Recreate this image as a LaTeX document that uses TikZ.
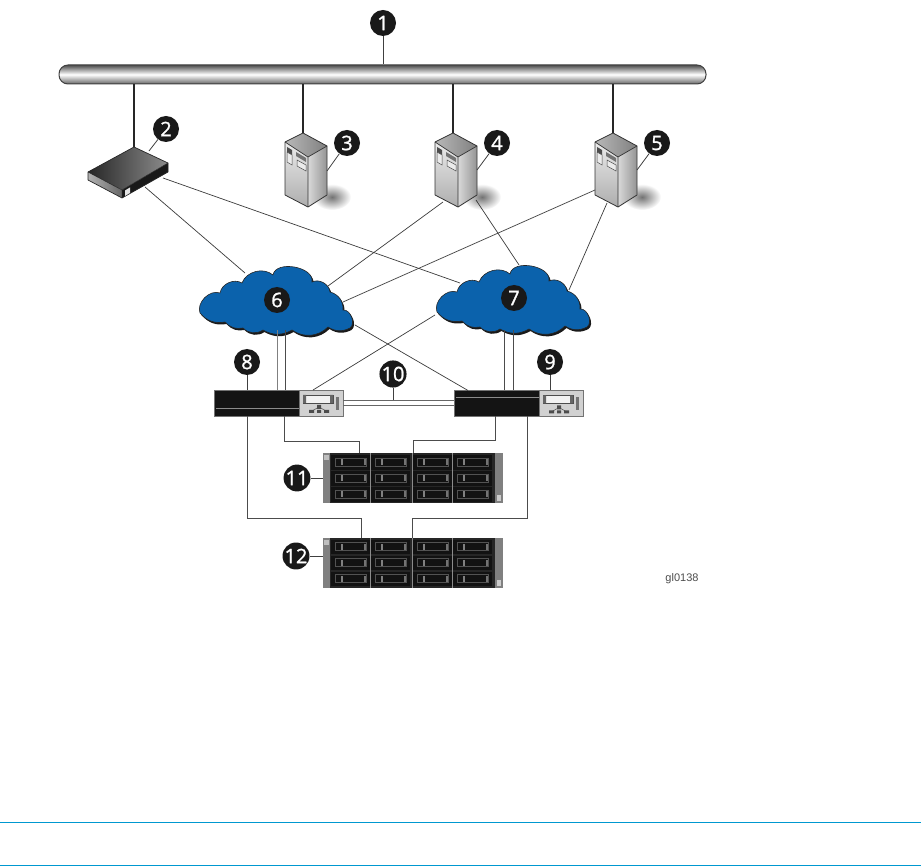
\documentclass[tikz,border=0pt]{standalone}
\usepackage{fontspec}
\setmainfont{Open Sans}
\newfontfamily\badgefont[FakeBold=1.2]{Open Sans}
\newfontfamily\captfont{Liberation Sans}
\usetikzlibrary{
  positioning,
  calc
}
\definecolor{cloudblue}{HTML}{0B62AC}
\definecolor{rulecyan}{HTML}{0098D0}
\definecolor{wire}{HTML}{3A3A3A}

\begin{document}
\begin{tikzpicture}[
  x=1pt, y=-1pt,
  badge/.style={circle, fill=black!90, text=white, inner sep=0pt, minimum size=26pt,
                font=\badgefont\fontsize{20}{20}\selectfont},
  busbar/.style={draw=black!75, line width=1pt, rounded corners=9pt, minimum width=647pt,
                 minimum height=19pt, inner sep=0pt, top color=black!70,
                 bottom color=black!60, middle color=white},
  drop/.style={draw=black!85, line width=1.2pt},
  tagline/.style={draw=black!75, line width=0.8pt},
  link/.style={draw=wire, line width=0.7pt},
  stem/.style={draw=black!70, line width=1pt},
  swbody/.style={draw=black!55, line width=0.8pt, fill=black!92, minimum width=129pt,
                 minimum height=26pt, inner sep=0pt, outer sep=0pt},
  swpanel/.style={draw=black!55, line width=0.8pt, fill=black!18, minimum width=44pt,
                  minimum height=26pt, inner sep=0pt, outer sep=0pt},
  arraybody/.style={fill=black!50, minimum width=180pt, minimum height=50pt,
                    inner sep=0pt, outer sep=0pt},
  pics/cabinet/.style={code={
    \shade[top color=black!8, bottom color=black!32] (-18,9) -- (5,24) -- (5,74) -- (-18,62) -- cycle;
    \shade[left color=black!15, right color=black!42] (5,24) -- (24,13) -- (24,62) -- (5,74) -- cycle;
    \shade[left color=black!28, right color=black!50] (0,0) -- (24,13) -- (5,24) -- (-18,9) -- cycle;
    \draw[black!80, line width=0.8pt, line join=round] (0,0) -- (24,13) -- (24,62) -- (5,74) -- (-18,62) -- (-18,9) -- cycle;
    \draw[black!80, line width=0.7pt] (-18,9) -- (5,24) -- (24,13) (5,24) -- (5,74);
    \fill[black!70] (-16,14) -- (-11,17) -- (-11,22) -- (-16,19) -- cycle;
    \draw[black!70, fill=black!8, line width=0.5pt] (-16,19) -- (-11,22) -- (-11,32) -- (-16,29) -- cycle;
    \fill[black!55] (-7,19) -- (3,25) -- (3,29) -- (-7,23) -- cycle;
    \draw[black!70, fill=black!8, line width=0.5pt] (-6,27) -- (3,32) -- (3,38) -- (-6,33) -- cycle;
  }},
  pics/routerbox/.style={code={
    \shade[left color=black!30, right color=black!60] (-46,25) -- (-12,43) -- (-12,51) -- (-46,33) -- cycle;
    \fill[black!90] (-12,43) -- (34,16) -- (34,25) -- (-12,51) -- cycle;
    \shade[left color=black!85, right color=black!45] (0,0) -- (34,16) -- (-12,43) -- (-46,25) -- cycle;
    \draw[black!85, line width=0.7pt, line join=round] (0,0) -- (34,16) -- (34,25) -- (-12,51) -- (-46,33) -- (-46,25) -- cycle;
    \draw[black!85, line width=0.5pt] (-46,25) -- (-12,43) -- (34,16) (-12,43) -- (-12,51);
    \fill[black!10] (-9,43.5) -- (-4,40.5) -- (-4,46) -- (-9,49) -- cycle;
  }},
  pics/cumulus/.style={code={
    \def\cloudpath{(-77,13) to[bend left=65] (-57,-7) to[bend left=55] (-35,-17)
      to[bend left=55] (-4,-25) to[bend left=90] (35,-18) to[bend left=55] (53,-8)
      to[bend left=40] (66,10) to[bend left=75] (73,28) to[bend left=30] (51,27)
      to[bend left=40] (15,30) to[bend left=30] (-14,30) to[bend left=40] (-34,28)
      to[bend left=30] (-52,22) to[bend left=30] cycle}
    \fill[black!90, shift={(1.5,2)}] \cloudpath;
    \draw[black!85, line width=0.6pt, fill=cloudblue] \cloudpath;
  }},
  pics/swface/.style={code={
    \draw[black!70, fill=black!5, line width=0.6pt] (-18,-8) rectangle (12,0);
    \fill[black!60] (-18,-8) rectangle (-15,0) (9,-8) rectangle (12,0);
    \draw[black!70, line width=0.5pt] (-2,4) -- (-9,8) (-2,4) -- (5,8);
    \fill[black!70] (-4,2) rectangle (0,6) (-12,7) rectangle (-7,10) (-4,7) rectangle (0,10) (3,7) rectangle (8,10);
    \fill[black!55] (15,-6) rectangle (18,7);
  }},
  pics/bays/.style={code={
    \fill[black!85] (7,0) rectangle (172,50);
    \foreach \col/\xa in {0/8,1/48,2/90,3/130} {
      \foreach \row/\ya in {0/2,1/18,2/34} {
        \fill[black!93] (\xa,\ya) rectangle ++(39,14.5);
        \draw[black!68, line width=0.5pt] (\xa+4,\ya+3) rectangle ++(31,8);
        \fill[black!50] (\xa+10,\ya+4) rectangle ++(2,6);
        \fill[black!55] (\xa+33,\ya+4) rectangle ++(2,6);
      }
    }
    \draw[black!45, line width=0.7pt] (47.5,0) -- (47.5,50) (89,0) -- (89,50) (129,0) -- (129,50);
    \fill[black!25] (1,2) rectangle (6,7);
    \fill[black!20] (174,42) rectangle (178,48);
  }}
]
  \useasboundingbox (0,0) rectangle (921,866);

  % backbone
  \node[busbar] (bus) at (382.5,74.5) {};

  % hosts
  \shade[inner color=black!55, outer color=white] (332,197) ellipse (19 and 13);
  \shade[inner color=black!55, outer color=white] (482,197) ellipse (19 and 13);
  \shade[inner color=black!55, outer color=white] (642,197) ellipse (19 and 13);
  \pic at (134,147) {routerbox};
  \pic at (303,133) {cabinet};
  \pic at (453,133) {cabinet};
  \pic at (613,133) {cabinet};
  \coordinate (hostb) at (134,147);
  \coordinate (hostc) at (303,133);
  \coordinate (hostd) at (453,133);
  \coordinate (hoste) at (613,133);
  \coordinate (hostbtag) at (149,151);
  \coordinate (hostctag) at (327,171);
  \coordinate (hostdtag) at (477,170);
  \coordinate (hostetag) at (637,170);

  % clouds
  \pic at (277,300) {cumulus};
  \pic at (514,299) {cumulus};

  % switches
  \node[swbody] (swh) at (278.5,403) {};
  \node[swbody] (swi) at (518.5,403.5) {};
  \node[swpanel] (swhp) at (321,403) {};
  \node[swpanel] (swip) at (561,403.5) {};
  \pic at (swhp) {swface};
  \pic at (swip) {swface};
  \fill[black!45] (216,408) rectangle (299,409.5);
  \fill[black!45] (456,397) rectangle (539,398.5);

  % storage
  \node[arraybody] (arrk) at (413,478) {};
  \node[arraybody] (arrl) at (413,562.5) {};
  \pic at (arrk.north west) {bays};
  \pic at (arrl.north west) {bays};

  % host to cloud, cloud to switch ends
  \coordinate (hbs) at (145,187);
  \coordinate (hbe) at (163,178);
  \coordinate (hds) at (443,202);
  \coordinate (hde) at (476,200);
  \coordinate (hes) at (595,190);
  \coordinate (hee) at (607,203);
  \coordinate (cfb) at (245,273);
  \coordinate (cfd) at (328,286);
  \coordinate (cfe) at (343,302);
  \coordinate (cfi) at (355,325);
  \coordinate (cgb) at (460,283);
  \coordinate (cgd) at (519,265);
  \coordinate (cge) at (569,290);
  \coordinate (cgh) at (435,315);

  \draw[link] (hbs) -- (cfb);
  \draw[link] (hbe) -- (cgb);
  \draw[link] (hds) -- (cfd);
  \draw[link] (hde) -- (cgd);
  \draw[link] (hes) -- (cfe);
  \draw[link] (hee) -- (cge);
  \draw[link] (cfi) -- ([xshift=14pt]swi.north west);
  \draw[link] (cgh) -- ([xshift=99pt]swh.north west);

  % bus drops
  \draw[drop] (hostb) -- (bus.south -| hostb);
  \draw[drop] (hostc) -- (bus.south -| hostc);
  \draw[drop] (hostd) -- (bus.south -| hostd);
  \draw[drop] (hoste) -- (bus.south -| hoste);

  % cloud to switch
  \draw[stem, black!50] ([xshift=63pt]swh.north west) -- ++(0,-60);
  \draw[stem] ([xshift=71pt]swh.north west) -- ++(0,-60);
  \draw[stem] ([xshift=50pt]swi.north west) -- ++(0,-60);
  \draw[stem] ([xshift=59pt]swi.north west) -- ++(0,-60);

  % interconnect
  \draw[stem, black!60, line width=0.8pt] (swhp.east |- 0,400) -- (swi.west |- 0,400);
  \draw[stem, black!60, line width=0.8pt] (swhp.east |- 0,405) -- (swi.west |- 0,405);

  % switch to storage
  \draw[stem] ([xshift=70pt]swh.south west) -- ++(0,25) -| ([xshift=36pt]arrk.north west);
  \draw[stem] ([xshift=41pt]swi.south west) -- ++(0,24) -| ([xshift=90pt]arrk.north west);
  \draw[stem] ([xshift=33pt]swh.south west) -- ++(0,102) -| ([xshift=38pt]arrl.north west);
  \draw[stem] ([xshift=73pt]swi.south west) -- ++(0,101.5) -| ([xshift=89pt]arrl.north west);

  % numbers
  \node[badge] (nb) at (383,23) {1};
  \node[badge] (nc) at (166,129) {2};
  \node[badge] (nd) at (347,143) {3};
  \node[badge] (ne) at (497,143) {4};
  \node[badge] (nf) at (657,143) {5};
  \node[badge] (ng) at (277,300) {6};
  \node[badge] (nh) at (514,298) {7};
  \node[badge] (ni) at (247,362) {8};
  \node[badge] (nj) at (550,362) {9};
  \node[badge] (nk) at (393,374) {10};
  \node[badge] (nl) at (297,478) {11};
  \node[badge] (nm) at (296,556) {12};

  \draw[tagline] (nb) -- (bus.north -| nb);
  \draw[tagline] (nc) -- (hostbtag);
  \draw[tagline] (nd) -- (hostctag);
  \draw[tagline] (ne) -- (hostdtag);
  \draw[tagline] (nf) -- (hostetag);
  \draw[tagline] (ni) -- (swh.north -| ni);
  \draw[tagline] (nj) -- (swi.north -| nj);
  \draw[tagline] (nk) -- (nk |- 0,400);
  \draw[tagline] (nl) -- (arrk.west |- nl);
  \draw[tagline] (nm) -- (arrl.west |- nm);

  \node[font=\captfont\fontsize{11}{11}\selectfont, text=black!70, inner sep=0pt] (figid) at (682,579) {gl0138};

  % page rules
  \draw[rulecyan, line width=1pt] (0,822.5) -- (921,822.5);
  \draw[rulecyan, line width=1pt] (0,865.3) -- (921,865.3);
\end{tikzpicture}
\end{document}
